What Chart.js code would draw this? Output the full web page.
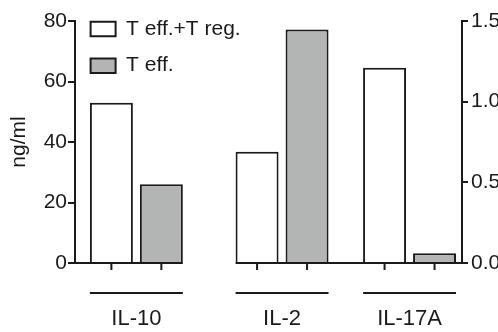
<!DOCTYPE html>
<html>
<head>
<meta charset="utf-8">
<title>Cytokines</title>
<script src="https://cdn.jsdelivr.net/npm/chart.js@4"></script>
<style>
  html, body { margin: 0; padding: 0; background: #fff; overflow: hidden; }
  #chart { display: block; }
</style>
</head>
<body>
<canvas id="chart" width="498" height="332"></canvas>
<script>
// values
const cytokines = ['IL-10', 'IL-2', 'IL-17A'];
const effPlusReg = [53, 36.8, 1.21];    // T eff.+T reg.
const effOnly = [26, 77.2, 0.06];       // T eff.
const axisOf = ['y', 'y', 'y2'];        // IL-17A is read on the right axis
const seriesNames = ['T eff.+T reg.', 'T eff.'];
const leftTicks = [0, 20, 40, 60, 80];
const rightTicks = [0, 0.5, 1.0, 1.5];

// layout: Prism spacing between groups is 8 : 7
const groupSlots = [0, 8, 15];

const INK = '#1a1a1a';
const GREY = '#b3b5b5';
const FAMILY = "'Liberation Sans', Arial, sans-serif";

Chart.defaults.font.family = FAMILY;
Chart.defaults.color = INK;

const seriesValues = [effPlusReg, effOnly];
const seriesFill = ['#ffffff', GREY];

// one dataset per series per y axis
const datasets = [];
['y', 'y2'].forEach(axisId => {
    seriesValues.forEach((vals, s) => {
        const pts = [];
        vals.forEach((v, i) => {
            if (axisOf[i] === axisId) pts.push({ x: groupSlots[i], y: v });
        });
        datasets.push({
            label: seriesNames[s],
            data: pts,
            yAxisID: axisId,
            backgroundColor: seriesFill[s],
            borderColor: INK,
            borderWidth: 2,
            categoryPercentage: 0.784,
            barPercentage: 0.86,
        });
    });
});

// broken baseline, bar ticks and group underlines
const prismAxis = {
    id: 'prismAxis',
    afterDatasetsDraw(chart) {
        const { ctx, chartArea } = chart;
        const base = chartArea.bottom;
        const groups = cytokines.map(() => ({ left: Infinity, right: -Infinity, centers: [] }));
        chart.data.datasets.forEach((ds, d) => {
            chart.getDatasetMeta(d).data.forEach((bar, k) => {
                const g = groups[groupSlots.indexOf(ds.data[k].x)];
                g.left = Math.min(g.left, bar.x - bar.width / 2);
                g.right = Math.max(g.right, bar.x + bar.width / 2);
                g.centers.push(bar.x);
            });
        });
        ctx.save();
        ctx.strokeStyle = INK;
        ctx.lineWidth = 2;
        ctx.beginPath();
        ctx.moveTo(chartArea.left, base);
        ctx.lineTo(groups[0].right, base);
        ctx.moveTo(groups[1].left, base);
        ctx.lineTo(chartArea.right, base);
        groups.forEach(g => {
            g.centers.forEach(cx => {
                ctx.moveTo(cx, base);
                ctx.lineTo(cx, base + 7);
            });
            ctx.moveTo(g.left, base + 30);
            ctx.lineTo(g.right, base + 30);
        });
        ctx.stroke();
        ctx.restore();
    }
};

const axisGrid = { drawOnChartArea: false, color: INK, lineWidth: 2 };

new Chart(document.getElementById('chart'), {
    type: 'bar',
    data: { datasets },
    plugins: [prismAxis],
    options: {
        responsive: false,
        animation: false,
        layout: { padding: { top: 21, left: 0, right: 0, bottom: 0 } },
        datasets: { bar: { skipNull: true } },
        plugins: {
            tooltip: { enabled: false },
            legend: {
                position: 'chartArea',
                align: 'start',
                title: { display: true, text: '', font: { size: 10, lineHeight: 1 }, padding: { top: -7, bottom: 0 } },
                labels: {
                    boxWidth: 25,
                    boxHeight: 14.5,
                    padding: 15.6,
                    color: INK,
                    font: { size: 21 },
                    filter: item => item.datasetIndex < 2,
                },
            },
        },
        scales: {
            x: {
                type: 'linear',
                offset: false,
                min: -3.37,
                max: 17.88,
                grid: { display: false, drawTicks: false, offset: false },
                border: { display: false },
                afterBuildTicks: s => { s.ticks = groupSlots.map(v => ({ value: v })); },
                afterFit: s => { s.height = 69; },
                ticks: {
                    autoSkip: false,
                    maxRotation: 0,
                    padding: 43,
                    color: INK,
                    font: { size: 22 },
                    callback: v => cytokines[groupSlots.indexOf(v)],
                },
            },
            y: {
                position: 'left',
                min: 0,
                max: 80,
                grid: { ...axisGrid, tickLength: 7 },
                border: { color: INK, width: 2 },
                afterBuildTicks: s => { s.ticks = leftTicks.map(v => ({ value: v })); },
                afterFit: s => { s.width = 75; },
                ticks: { padding: 1, color: INK, font: { size: 21 } },
                title: { display: true, text: 'ng/ml', color: INK, font: { size: 21 }, padding: { top: 7, bottom: 0 } },
            },
            y2: {
                position: 'right',
                min: 0,
                max: 1.5,
                grid: { ...axisGrid, tickLength: 6 },
                border: { color: INK, width: 2 },
                afterBuildTicks: s => { s.ticks = rightTicks.map(v => ({ value: v })); },
                afterFit: s => { s.width = 36; },
                ticks: { padding: 3, color: INK, font: { size: 21 }, callback: v => v.toFixed(1) },
            },
        },
    },
});
</script>
</body>
</html>
